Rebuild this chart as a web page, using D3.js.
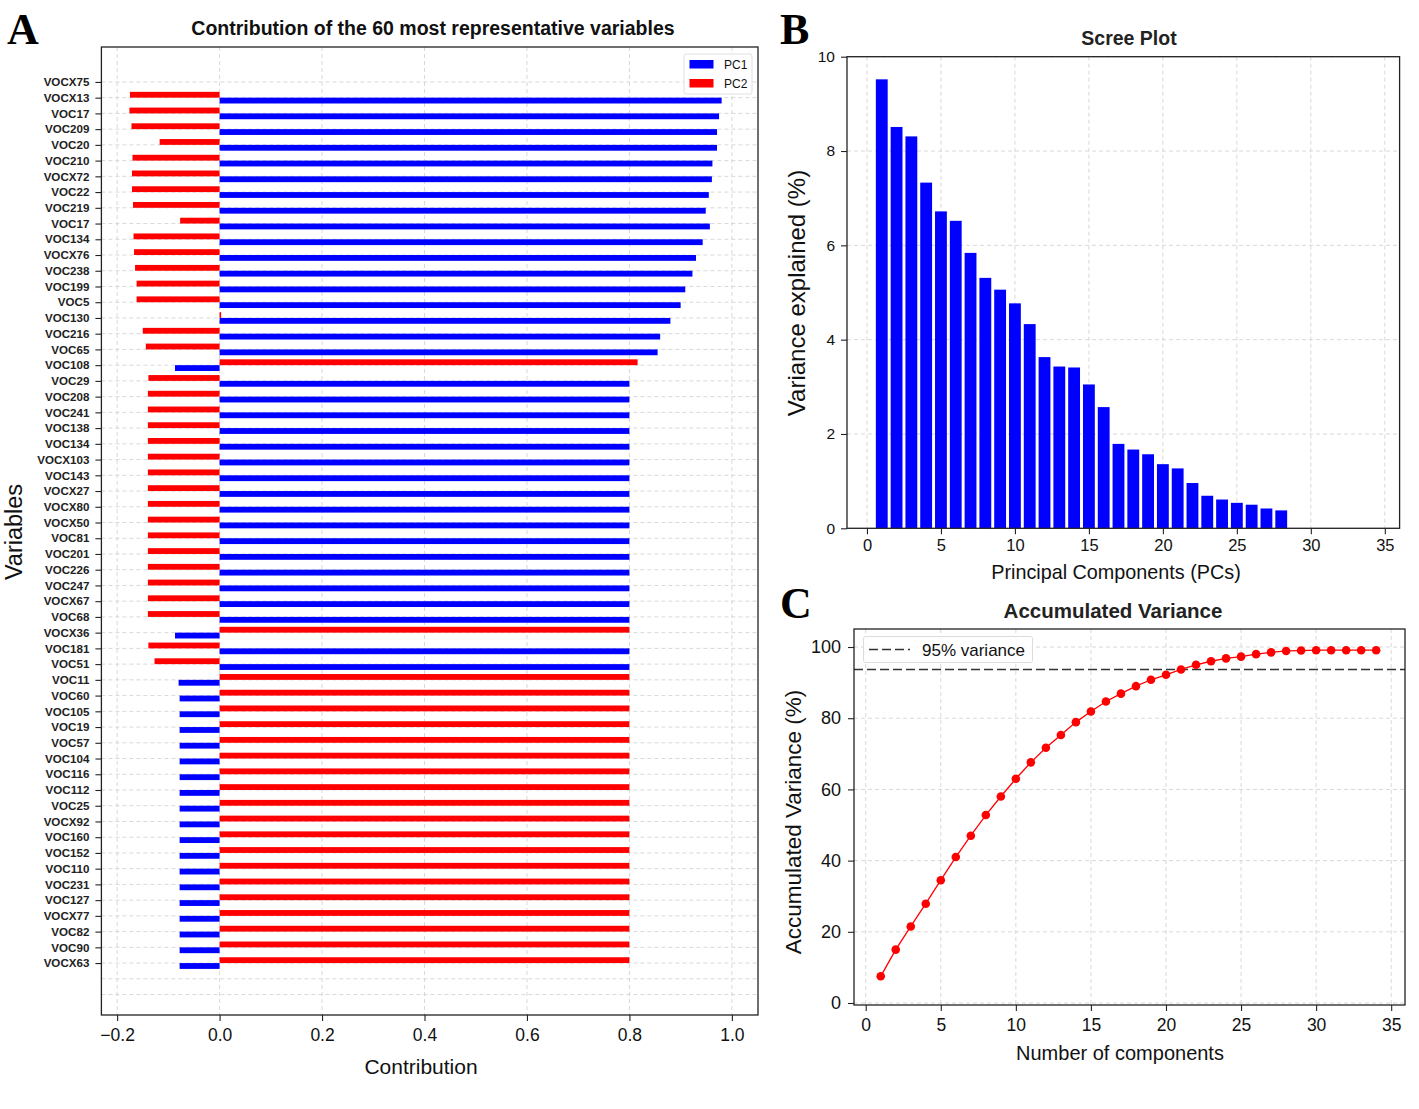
<!DOCTYPE html>
<html>
<head>
<meta charset="utf-8">
<script src="https://cdn.jsdelivr.net/npm/d3@7"></script>
<style>
  html, body { margin: 0; padding: 0; background: #fff; }
  svg { display: block; font-family: "Liberation Sans", Arial, sans-serif; }
</style>
</head>
<body>
<svg id="fig" width="1419" height="1109"></svg>
<script>
// ---------------- DATA ----------------
const variables = ["VOCX75","VOCX13","VOC17","VOC209","VOC20","VOC210","VOCX72","VOC22","VOC219","VOC17","VOC134","VOCX76","VOC238","VOC199","VOC5","VOC130","VOC216","VOC65","VOC108","VOC29","VOC208","VOC241","VOC138","VOC134","VOCX103","VOC143","VOCX27","VOCX80","VOCX50","VOC81","VOC201","VOC226","VOC247","VOCX67","VOC68","VOCX36","VOC181","VOC51","VOC11","VOC60","VOC105","VOC19","VOC57","VOC104","VOC116","VOC112","VOC25","VOCX92","VOC160","VOC152","VOC110","VOC231","VOC127","VOCX77","VOC82","VOC90","VOCX63"];
const pc1 = [0, 0.980,0.975,0.971,0.971,0.962,0.961,0.955,0.949,0.957,0.943,0.930,0.923,0.909,0.900,0.880,0.860,0.855,
  -0.087,
  0.80,0.80,0.80,0.80,0.80,0.80,0.80,0.80,0.80,0.80,0.80,0.80,0.80,0.80,0.80,0.80,
  -0.087, 0.80, 0.80,
  -0.080,-0.078,-0.078,-0.078,-0.078,-0.078,-0.078,-0.078,-0.078,-0.078,-0.078,-0.078,-0.078,-0.078,-0.078,-0.078,-0.078,-0.078,-0.078];
const pc2 = [0, -0.175,-0.176,-0.172,-0.117,-0.170,-0.171,-0.171,-0.169,-0.077,-0.168,-0.167,-0.165,-0.162,-0.162,0.003,-0.150,-0.144,
  0.816,
  -0.139,-0.140,-0.140,-0.140,-0.140,-0.140,-0.140,-0.140,-0.140,-0.140,-0.140,-0.140,-0.140,-0.140,-0.140,-0.140,
  0.80, -0.139, -0.127,
  0.80,0.80,0.80,0.80,0.80,0.80,0.80,0.80,0.80,0.80,0.80,0.80,0.80,0.80,0.80,0.80,0.80,0.80,0.80];
const contribTicks = [-0.2, 0.0, 0.2, 0.4, 0.6, 0.8, 1.0];

const pcs = d3.range(1, 29);
const varExplained = [9.52,8.51,8.31,7.33,6.72,6.52,5.84,5.31,5.06,4.77,4.33,3.63,3.43,3.41,3.05,2.57,1.79,1.67,1.57,1.36,1.27,0.96,0.69,0.61,0.54,0.50,0.42,0.38];
const screeXTicks = [0,5,10,15,20,25,30,35];
const screeYTicks = [0,2,4,6,8,10];

const nComponents = d3.range(1, 35);
const accVariance = [7.5,15.0,21.5,27.9,34.5,41.0,47.0,52.8,58.0,63.0,67.6,71.7,75.3,78.9,81.9,84.7,86.9,89.0,90.8,92.2,93.7,95.0,96.0,96.8,97.3,98.0,98.5,98.9,99.0,99.1,99.1,99.1,99.1,99.1];
const thresholdLine = 93.7;
const accXTicks = [0,5,10,15,20,25,30,35];
const accYTicks = [0,20,40,60,80,100];

// ---------------- HELPERS ----------------
const svg = d3.select("#fig");
const gridColor = "#d4d4d4";
const BLUE = "#0000ff", RED = "#ff0000";

function frame(g, x0, x1, y0, y1) {
  g.append("rect").attr("x", x0).attr("y", y0).attr("width", x1 - x0).attr("height", y1 - y0)
    .attr("fill", "none").attr("stroke", "#222").attr("stroke-width", 1.3);
}
function styleAxis(ax, fs) {
  ax.select(".domain").remove();
  ax.selectAll(".tick line").attr("stroke", "#222").attr("stroke-width", 1.1);
  ax.selectAll(".tick text").attr("fill", "#111").style("font-size", fs + "px")
    .style("font-family", "'Liberation Sans', Arial, sans-serif");
}
function panelLetter(t, x, y) {
  svg.append("text").attr("x", x).attr("y", y).text(t)
    .style("font-family", "'Liberation Serif', 'Times New Roman', serif")
    .style("font-weight", "bold").style("font-size", "44px").attr("fill", "#000");
}

// ================= PANEL A =================
{
  const L = 101.4, R = 758, T = 47, B = 1015;
  const x = d3.scaleLinear().domain([-0.2307, 1.051]).range([L, R]);
  const y = d3.scaleLinear().domain([-2.22, 59.3]).range([T, B]);
  const g = svg.append("g");
  const bh = 0.37;

  // grid
  g.append("g").selectAll("line").data(contribTicks).join("line")
    .attr("x1", d => x(d)).attr("x2", d => x(d)).attr("y1", T).attr("y2", B)
    .attr("stroke", gridColor).attr("stroke-dasharray", "4,3").attr("stroke-width", 0.9);
  g.append("g").selectAll("line").data(d3.range(variables.length + 2)).join("line")
    .attr("x1", L).attr("x2", R).attr("y1", d => y(d)).attr("y2", d => y(d))
    .attr("stroke", gridColor).attr("stroke-dasharray", "4,3").attr("stroke-width", 0.9);

  const rows = variables.map((v, i) => ({ i, v, a: pc1[i], b: pc2[i] }));
  // PC2 (above tick)
  g.append("g").selectAll("rect").data(rows).join("rect")
    .attr("x", d => Math.min(x(0), x(d.b))).attr("width", d => Math.abs(x(d.b) - x(0)))
    .attr("y", d => y(d.i - bh)).attr("height", d => y(d.i) - y(d.i - bh))
    .attr("fill", RED);
  // PC1 (below tick)
  g.append("g").selectAll("rect").data(rows).join("rect")
    .attr("x", d => Math.min(x(0), x(d.a))).attr("width", d => Math.abs(x(d.a) - x(0)))
    .attr("y", d => y(d.i)).attr("height", d => y(d.i + bh) - y(d.i))
    .attr("fill", BLUE);

  // axes
  const xa = g.append("g").attr("transform", `translate(0,${B})`)
    .call(d3.axisBottom(x).tickValues(contribTicks).tickFormat(d3.format(".1f")).tickSize(6).tickPadding(8));
  styleAxis(xa, 17.5);
  const ya = g.append("g").attr("transform", `translate(${L},0)`)
    .call(d3.axisLeft(y).tickValues(d3.range(variables.length)).tickFormat(i => variables[i]).tickSize(6).tickPadding(6));
  styleAxis(ya, 11.6);
  ya.selectAll(".tick text").style("font-weight", "bold").attr("fill", "#222");

  frame(g, L, R, T, B);

  // legend
  const lg = g.append("g");
  lg.append("rect").attr("x", 684).attr("y", 54).attr("width", 68).attr("height", 40).attr("rx", 2)
    .attr("fill", "#fff").attr("fill-opacity", 0.85).attr("stroke", "#e0e0e0");
  const legItems = [["PC1", BLUE], ["PC2", RED]];
  legItems.forEach((it, k) => {
    lg.append("rect").attr("x", 689.5).attr("y", 60 + k * 19).attr("width", 24).attr("height", 8.5).attr("fill", it[1]);
    lg.append("text").attr("x", 724).attr("y", 68.5 + k * 19).text(it[0]).style("font-size", "12px").attr("fill", "#111");
  });

  // titles
  svg.append("text").attr("x", 433).attr("y", 35).attr("text-anchor", "middle")
    .text("Contribution of the 60 most representative variables")
    .style("font-weight", "bold").style("font-size", "19.5px").attr("fill", "#111");
  svg.append("text").attr("x", 421).attr("y", 1074).attr("text-anchor", "middle")
    .text("Contribution").style("font-size", "21px").attr("fill", "#111");
  svg.append("text").attr("transform", "translate(22,532) rotate(-90)").attr("text-anchor", "middle")
    .text("Variables").style("font-size", "23.5px").attr("fill", "#111");
  panelLetter("A", 7, 44);
}

// ================= PANEL B =================
{
  const L = 847, R = 1399.6, T = 56.7, B = 528.3;
  const x = d3.scaleLinear().domain([-1.35, 36]).range([L, R]);
  const y = d3.scaleLinear().domain([0, 10]).range([B, T]);
  const g = svg.append("g");

  g.append("g").selectAll("line").data(screeXTicks).join("line")
    .attr("x1", d => x(d)).attr("x2", d => x(d)).attr("y1", T).attr("y2", B)
    .attr("stroke", gridColor).attr("stroke-dasharray", "4,3").attr("stroke-width", 0.9);
  g.append("g").selectAll("line").data(screeYTicks).join("line")
    .attr("x1", L).attr("x2", R).attr("y1", d => y(d)).attr("y2", d => y(d))
    .attr("stroke", gridColor).attr("stroke-dasharray", "4,3").attr("stroke-width", 0.9);

  g.append("g").selectAll("rect").data(pcs).join("rect")
    .attr("x", (d) => x(d - 0.4)).attr("width", x(0.8) - x(0))
    .attr("y", (d, i) => y(varExplained[i])).attr("height", (d, i) => y(0) - y(varExplained[i]))
    .attr("fill", BLUE);

  const xa = g.append("g").attr("transform", `translate(0,${B})`)
    .call(d3.axisBottom(x).tickValues(screeXTicks).tickSize(6).tickPadding(5));
  styleAxis(xa, 16.5);
  const ya = g.append("g").attr("transform", `translate(${L},0)`)
    .call(d3.axisLeft(y).tickValues(screeYTicks).tickSize(6).tickPadding(6));
  styleAxis(ya, 15.5);
  frame(g, L, R, T, B);

  svg.append("text").attr("x", 1129).attr("y", 45).attr("text-anchor", "middle")
    .text("Scree Plot").style("font-size", "19.5px").style("font-weight", "bold").attr("fill", "#222");
  svg.append("text").attr("x", 1116).attr("y", 579).attr("text-anchor", "middle")
    .text("Principal Components (PCs)").style("font-size", "19.8px").attr("fill", "#111");
  svg.append("text").attr("transform", "translate(805,293) rotate(-90)").attr("text-anchor", "middle")
    .text("Variance explained (%)").style("font-size", "24px").attr("fill", "#111");
  panelLetter("B", 780, 44);
}

// ================= PANEL C =================
{
  const L = 854, R = 1405, T = 629, B = 1005;
  const x = d3.scaleLinear().domain([-0.78, 35.92]).range([L, R]);
  const y = d3.scaleLinear().domain([-0.56, 105.06]).range([B, T]);
  const g = svg.append("g");

  g.append("g").selectAll("line").data(accXTicks).join("line")
    .attr("x1", d => x(d)).attr("x2", d => x(d)).attr("y1", T).attr("y2", B)
    .attr("stroke", gridColor).attr("stroke-dasharray", "4,3").attr("stroke-width", 0.9);
  g.append("g").selectAll("line").data(accYTicks).join("line")
    .attr("x1", L).attr("x2", R).attr("y1", d => y(d)).attr("y2", d => y(d))
    .attr("stroke", gridColor).attr("stroke-dasharray", "4,3").attr("stroke-width", 0.9);

  g.append("line").attr("x1", L).attr("x2", R).attr("y1", y(thresholdLine)).attr("y2", y(thresholdLine))
    .attr("stroke", "#333").attr("stroke-width", 1.4).attr("stroke-dasharray", "9,4");

  const line = d3.line().x((d, i) => x(nComponents[i])).y(d => y(d));
  g.append("path").datum(accVariance).attr("d", line).attr("fill", "none").attr("stroke", RED).attr("stroke-width", 1.3);
  g.append("g").selectAll("circle").data(accVariance).join("circle")
    .attr("cx", (d, i) => x(nComponents[i])).attr("cy", d => y(d)).attr("r", 4.3).attr("fill", RED);

  const xa = g.append("g").attr("transform", `translate(0,${B})`)
    .call(d3.axisBottom(x).tickValues(accXTicks).tickSize(6).tickPadding(8));
  styleAxis(xa, 17.5);
  const ya = g.append("g").attr("transform", `translate(${L},0)`)
    .call(d3.axisLeft(y).tickValues(accYTicks).tickSize(6).tickPadding(7));
  styleAxis(ya, 18);
  frame(g, L, R, T, B);

  // legend
  const lg = g.append("g");
  lg.append("rect").attr("x", 863.5).attr("y", 636.5).attr("width", 169).attr("height", 26).attr("rx", 2)
    .attr("fill", "#fff").attr("fill-opacity", 0.85).attr("stroke", "#dcdcdc");
  lg.append("line").attr("x1", 869).attr("x2", 910).attr("y1", 649.5).attr("y2", 649.5)
    .attr("stroke", "#333").attr("stroke-width", 1.4).attr("stroke-dasharray", "9,4");
  lg.append("text").attr("x", 922).attr("y", 655.5).text("95% variance").style("font-size", "17px").attr("fill", "#111");

  svg.append("text").attr("x", 1113).attr("y", 618).attr("text-anchor", "middle")
    .text("Accumulated Variance").style("font-size", "20.5px").style("font-weight", "bold").attr("fill", "#222");
  svg.append("text").attr("x", 1120).attr("y", 1060).attr("text-anchor", "middle")
    .text("Number of components").style("font-size", "20px").attr("fill", "#111");
  svg.append("text").attr("transform", "translate(801,822) rotate(-90)").attr("text-anchor", "middle")
    .text("Accumulated Variance (%)").style("font-size", "22.5px").attr("fill", "#111");
  panelLetter("C", 780, 618);
}
</script>
</body>
</html>
